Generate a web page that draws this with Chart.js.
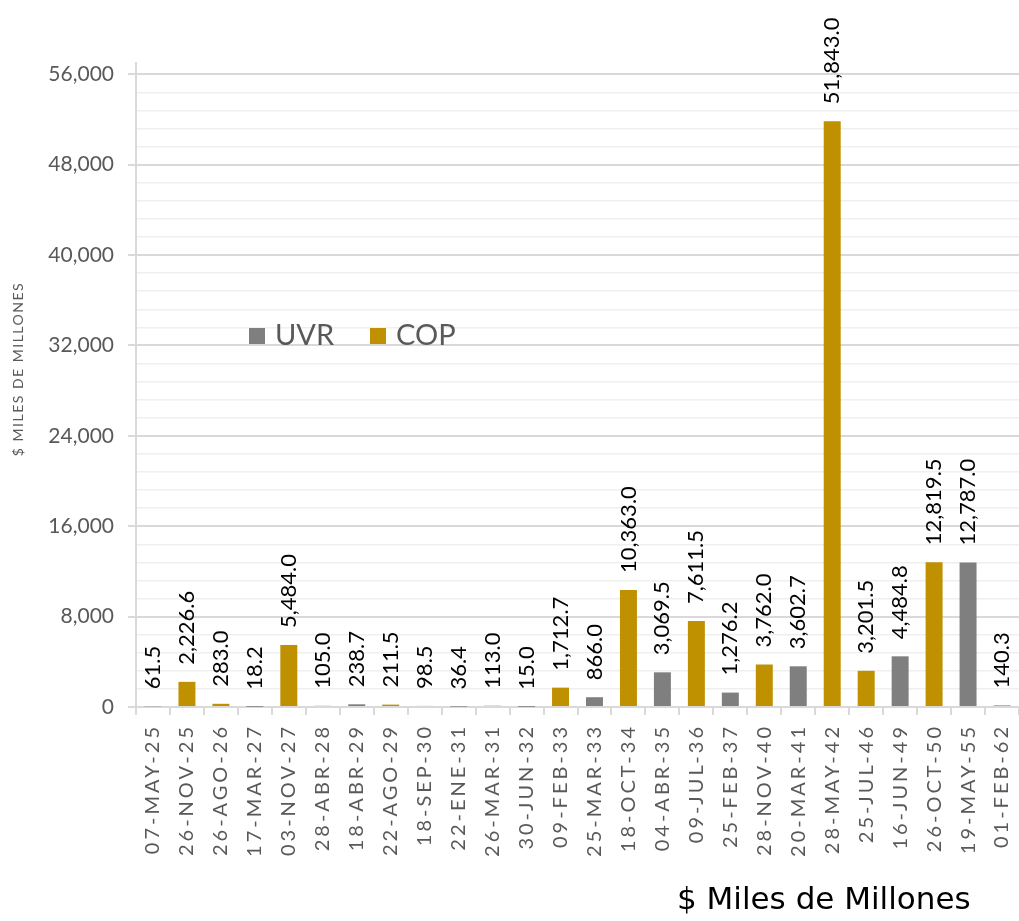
<!DOCTYPE html>
<html>
<head>
<meta charset="utf-8">
<script src="https://cdn.jsdelivr.net/npm/chart.js@4"></script>
<style>
  html, body { margin: 0; padding: 0; background: #fff; }
  #wrap { position: relative; width: 1019px; height: 921px; }
</style>
</head>
<body>
<div id="wrap"><canvas id="vencimientos"></canvas></div>
<script>
const fechas = ['07-MAY-25', '26-NOV-25', '26-AGO-26', '17-MAR-27', '03-NOV-27', '28-ABR-28', '18-ABR-29', '22-AGO-29',
    '18-SEP-30', '22-ENE-31', '26-MAR-31', '30-JUN-32', '09-FEB-33', '25-MAR-33', '18-OCT-34', '04-ABR-35',
    '09-JUL-36', '25-FEB-37', '28-NOV-40', '20-MAR-41', '28-MAY-42', '25-JUL-46', '16-JUN-49', '26-OCT-50',
    '19-MAY-55', '01-FEB-62'];
const uvr = [61.5, null, null, 18.2, null, null, 238.7, null,
    null, 36.4, null, 15.0, null, 866.0, null, 3069.5,
    null, 1276.2, null, 3602.7, null, null, 4484.8, null,
    12787.0, 140.3];
const cop = [null, 2226.6, 283.0, null, 5484.0, 105.0, null, 211.5,
    98.5, null, 113.0, null, 1712.7, null, 10363.0, null,
    7611.5, null, 3762.0, null, 51843.0, 3201.5, null, 12819.5,
    null, null];
const serieNombres = ['UVR', 'COP'];
const serieColores = ['#7f7f7f', '#bf9000'];
const yMax = 57000, yPaso = 1600, yPasoMayor = 8000;

const fmt = v => v.toLocaleString('en-US', { minimumFractionDigits: 1, maximumFractionDigits: 1 });

// etiquetas de valor, leyenda y titulos
const extras = {
    id: 'extras',
    afterDatasetsDraw(chart) {
        const ctx = chart.ctx;
        ctx.save();
        ctx.fillStyle = '#000';
        ctx.font = '22px Lato';
        ctx.textAlign = 'left';
        ctx.textBaseline = 'middle';
        chart.data.datasets.forEach((ds, i) => {
            chart.getDatasetMeta(i).data.forEach((el, j) => {
                const v = ds.data[j];
                if (v === null || v === undefined) return;
                ctx.save();
                ctx.translate(el.x, el.y - 17);
                ctx.rotate(-Math.PI / 2);
                ctx.fillText(fmt(v), 0, 0);
                ctx.restore();
            });
        });

        // leyenda dentro del area
        ctx.font = '29px Lato';
        ctx.textBaseline = 'middle';
        const lx = [249, 370];
        serieNombres.forEach((n, i) => {
            ctx.fillStyle = serieColores[i];
            ctx.fillRect(lx[i], 328, 16, 16);
            ctx.fillStyle = '#595959';
            ctx.fillText(n, lx[i] + 26, 336);
        });

        // titulo eje y
        ctx.save();
        ctx.translate(18, 369);
        ctx.rotate(-Math.PI / 2);
        ctx.textAlign = 'center';
        ctx.font = '14px Lato';
        ctx.letterSpacing = '1.5px';
        ctx.fillStyle = '#595959';
        ctx.fillText('$ MILES DE MILLONES', 0, 0);
        ctx.restore();

        // unidad abajo
        ctx.font = '31px "DejaVu Sans"';
        ctx.fillStyle = '#000';
        ctx.textAlign = 'left';
        ctx.fillText('$ Miles de Millones', 677, 901);
        ctx.restore();

        // espaciado para las etiquetas del eje x (capa z=1)
        ctx.letterSpacing = '3px';
    },
    afterDraw(chart) {
        chart.ctx.letterSpacing = '0px';
    }
};

const esMayor = v => v % yPasoMayor === 0;

const ctx = document.getElementById('vencimientos').getContext('2d');
new Chart(ctx, {
    type: 'bar',
    data: {
        labels: fechas,
        datasets: [
            { label: serieNombres[0], data: uvr, backgroundColor: serieColores[0] },
            { label: serieNombres[1], data: cop, backgroundColor: serieColores[1] }
        ]
    },
    options: {
        responsive: true,
        maintainAspectRatio: false,
        animation: false,
        layout: { padding: { top: 63, right: 0, bottom: 0, left: 0 } },
        datasets: { bar: { categoryPercentage: 1, barPercentage: 0.5 } },
        plugins: {
            legend: { display: false },
            tooltip: { enabled: false }
        },
        scales: {
            x: {
                stacked: true,
                afterFit(scale) {
                    scale.height = 214;
                    scale.paddingLeft = 0;
                    scale.paddingRight = 0;
                },
                grid: { offset: true, drawOnChartArea: false, tickLength: 8, color: '#d9d9d9', lineWidth: 2 },
                border: { color: '#d9d9d9', width: 2 },
                ticks: {
                    z: 1,
                    minRotation: 90,
                    maxRotation: 90,
                    autoSkip: false,
                    padding: 9,
                    color: '#595959',
                    font: { family: 'Lato', size: 20 }
                }
            },
            y: {
                stacked: true,
                min: 0,
                max: yMax,
                afterFit(scale) { scale.width = 136; },
                afterBuildTicks(scale) {
                    const t = [];
                    for (let v = 0; v <= yMax; v += yPaso) t.push({ value: v });
                    scale.ticks = t;
                },
                grid: {
                    tickLength: 8,
                    color: c => esMayor(c.tick.value) ? '#d9d9d9' : '#efefef',
                    tickColor: c => esMayor(c.tick.value) ? '#d9d9d9' : 'transparent',
                    lineWidth: c => esMayor(c.tick.value) ? 2 : 1.5
                },
                border: { color: '#d9d9d9', width: 2 },
                ticks: {
                    autoSkip: false,
                    padding: 14,
                    color: '#595959',
                    font: { family: 'Lato', size: 21 },
                    callback: v => esMayor(v) ? v.toLocaleString('en-US') : ''
                }
            }
        }
    },
    plugins: [extras]
});
</script>
</body>
</html>
